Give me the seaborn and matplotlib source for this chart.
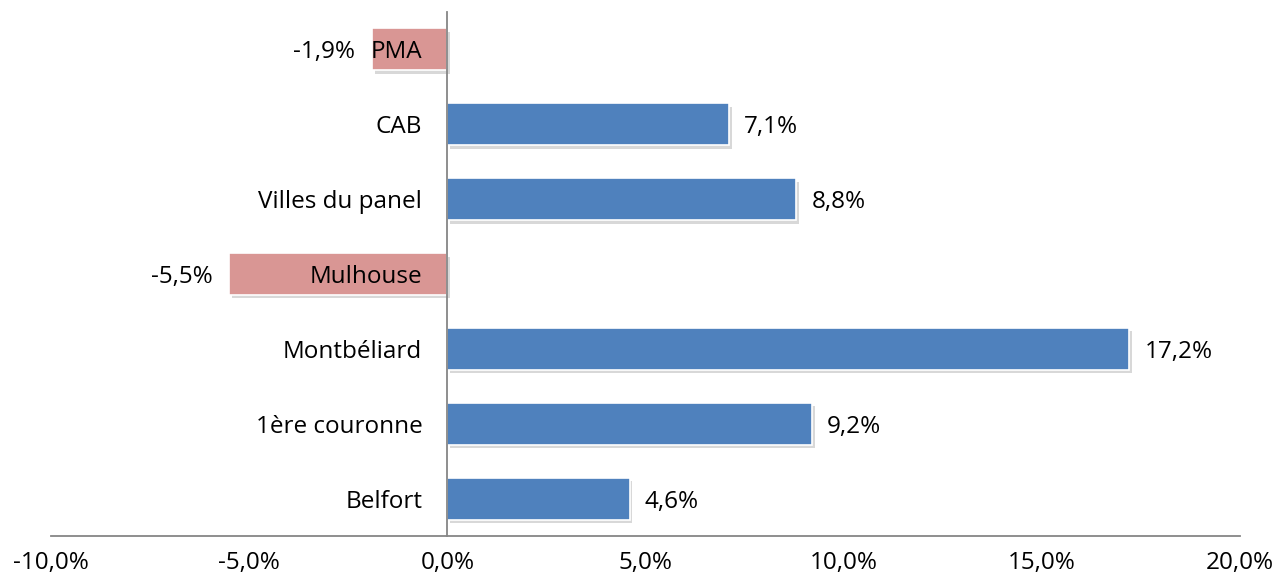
import matplotlib
matplotlib.use("Agg")
import matplotlib.pyplot as plt
import matplotlib.patheffects as pe
from matplotlib.ticker import FuncFormatter
import seaborn as sns
import pandas as pd

categories = ["PMA", "CAB", "Villes du panel", "Mulhouse", "Montbéliard", "1ère couronne", "Belfort"]
values = [-1.9, 7.1, 8.8, -5.5, 17.2, 9.2, 4.6]
x_ticks = [-10, -5, 0, 5, 10, 15, 20]

BLUE = "#4F81BD"
PINK = "#D99694"
colors = [PINK if v < 0 else BLUE for v in values]
FS = 17.5

sns.set_theme(style="white")
plt.rcParams["font.family"] = ["Open Sans", "DejaVu Sans"]

df = pd.DataFrame({"cat": categories, "val": values})

fig = plt.figure(figsize=(12.74, 5.82), dpi=100)
ax = fig.add_axes([51 / 1274, 1 - 536 / 582, (1240 - 51) / 1274, (536 - 12) / 582])

sns.barplot(data=df, x="val", y="cat", hue="cat", palette=colors, order=categories,
            hue_order=categories, legend=False, width=0.56, ax=ax,
            edgecolor="white", linewidth=1.2, saturation=1)

for p in ax.patches:
    p.set_path_effects([pe.SimplePatchShadow(offset=(2, -2.5), shadow_rgbFace="#909090", alpha=0.35),
                        pe.Normal()])

ax.set_xlim(-10, 20)
ax.set_ylim(6.5, -0.5)
ax.set_xticks(x_ticks)
ax.xaxis.set_major_formatter(FuncFormatter(lambda v, _: f"{v:.1f}%".replace(".", ",")))
ax.set_xlabel("")
ax.set_ylabel("")

for s in ["top", "right"]:
    ax.spines[s].set_visible(False)
ax.spines["left"].set_position(("data", 0))
ax.spines["left"].set_color("#868686")
ax.spines["left"].set_linewidth(1.3)
ax.spines["bottom"].set_color("#868686")
ax.spines["bottom"].set_linewidth(1.3)
ax.set_axisbelow(False)
ax.spines["left"].set_zorder(3)

ax.tick_params(axis="y", length=0, pad=18, labelsize=FS, labelcolor="black")
ax.tick_params(axis="x", length=0, pad=11, labelsize=FS, labelcolor="black")
for lbl in ax.get_yticklabels():
    lbl.set_zorder(4)
    lbl.set_verticalalignment("center_baseline")

for i, v in enumerate(values):
    txt = f"{v:.1f}%".replace(".", ",")
    if v >= 0:
        ax.annotate(txt, (v, i), xytext=(11, 0), textcoords="offset points",
                    ha="left", va="center_baseline", fontsize=FS, color="black")
    else:
        ax.annotate(txt, (v, i), xytext=(-12, 0), textcoords="offset points",
                    ha="right", va="center_baseline", fontsize=FS, color="black")

fig.savefig("out.png", dpi=100)
